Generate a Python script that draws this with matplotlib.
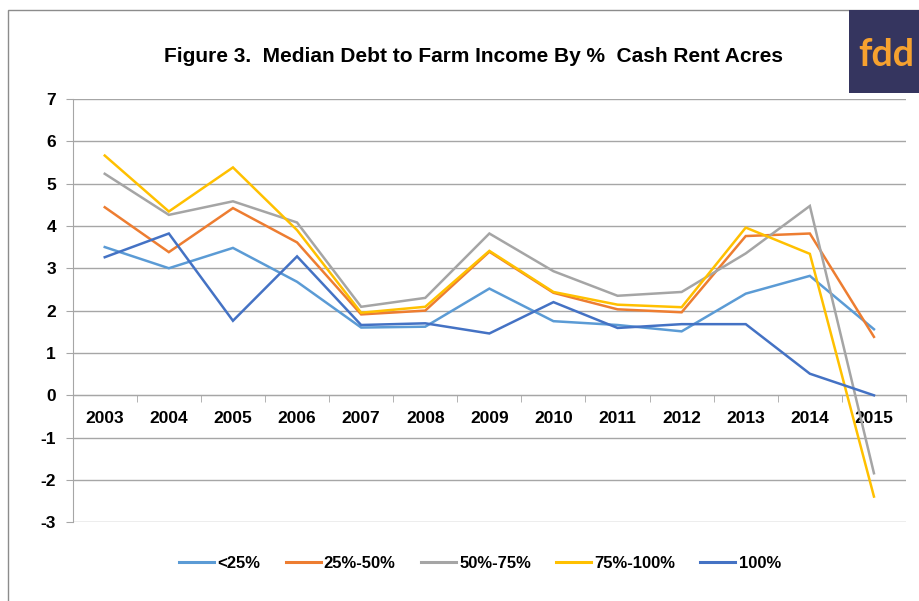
import matplotlib
matplotlib.use("Agg")
import matplotlib.pyplot as plt
from matplotlib.patches import Rectangle
from matplotlib.lines import Line2D

years = ["2003", "2004", "2005", "2006", "2007", "2008", "2009",
         "2010", "2011", "2012", "2013", "2014", "2015"]
lt25 = [3.50, 3.00, 3.48, 2.68, 1.60, 1.62, 2.52, 1.75, 1.66, 1.51, 2.40, 2.82, 1.56]
p25_50 = [4.44, 3.38, 4.42, 3.61, 1.91, 2.00, 3.39, 2.42, 2.03, 1.96, 3.76, 3.82, 1.38]
p50_75 = [5.23, 4.26, 4.58, 4.08, 2.09, 2.30, 3.82, 2.93, 2.35, 2.44, 3.35, 4.47, -1.84]
p75_100 = [5.66, 4.34, 5.38, 3.90, 1.95, 2.09, 3.41, 2.44, 2.14, 2.08, 3.96, 3.34, -2.39]
p100 = [3.26, 3.82, 1.76, 3.28, 1.66, 1.70, 1.46, 2.20, 1.59, 1.68, 1.68, 0.51, 0.00]

series_names = ["<25%", "25%-50%", "50%-75%", "75%-100%", "100%"]
series_values = [lt25, p25_50, p50_75, p75_100, p100]
colors = ["#5B9BD5", "#ED7D31", "#A5A5A5", "#FFC000", "#4472C4"]
title = "Figure 3.  Median Debt to Farm Income By %  Cash Rent Acres"
yticks = [-3, -2, -1, 0, 1, 2, 3, 4, 5, 6, 7]

plt.rcParams['font.family'] = ['Liberation Sans', 'DejaVu Sans']

fig = plt.figure(figsize=(9.2, 6.01), dpi=100)
ax = fig.add_axes([72.7 / 920, 1 - 522.4 / 601, (906 - 72.7) / 920, (522.4 - 98.8) / 601])

x = list(range(len(years)))
for name, vals, c in zip(series_names, series_values, colors):
    ax.plot(x, vals, color=c, lw=1.8, label=name, solid_joinstyle='miter', zorder=3)

ax.set_xlim(-0.5, len(years) - 0.5)
ax.set_ylim(-3, 7)
ax.set_yticks(yticks)
ax.set_yticklabels([str(v) for v in yticks], fontsize=12.5, fontweight='bold')
ax.yaxis.grid(True, color='#A6A6A6', lw=1.0)
ax.set_axisbelow(True)

for s in ['top', 'right']:
    ax.spines[s].set_visible(False)
ax.spines['left'].set_color('#A6A6A6')
ax.spines['bottom'].set_color('#A6A6A6')
ax.spines['bottom'].set_position(('data', 0))
ax.tick_params(axis='y', length=5, color='#A6A6A6', pad=7, labelcolor='black')

ax.set_xticks(x)
ax.set_xticklabels(years, fontsize=12.5, fontweight='bold')
ax.tick_params(axis='x', which='major', length=0, pad=11)
ax.set_xticks([i + 0.5 for i in range(-1, len(years))], minor=True)
ax.tick_params(axis='x', which='minor', length=5, color='#A6A6A6', direction='out')

fig.text(474 / 920, 1 - 57 / 601, title, ha='center', va='center', fontsize=15, fontweight='bold')

handles = [Line2D([0], [0], color=c, lw=2.2) for c in colors]
fig.legend(handles, series_names, loc='center', bbox_to_anchor=(480 / 920, 1 - 563 / 601),
           ncol=5, frameon=False, prop={'size': 12, 'weight': 'bold'},
           handlelength=2.1, handletextpad=0.2, columnspacing=1.5)

# chart border
fig.add_artist(Rectangle((8 / 920, -0.1), 1.2, 1 - 9.5 / 601 + 0.1, transform=fig.transFigure,
                         fill=False, edgecolor='#8C8C8C', lw=1.0))

# logo
fig.add_artist(Rectangle((849 / 920, 1 - 93 / 601), 0.2, (93 - 10) / 601, transform=fig.transFigure,
                         facecolor='#35355F', edgecolor='none', zorder=5))
fig.text(858 / 920, 1 - 55 / 601, "fdd", ha='left', va='center', fontsize=27, fontweight='bold',
         family=['Lato', 'DejaVu Sans'], color='#F6A12F', zorder=6)

fig.savefig("out.png", dpi=100)
